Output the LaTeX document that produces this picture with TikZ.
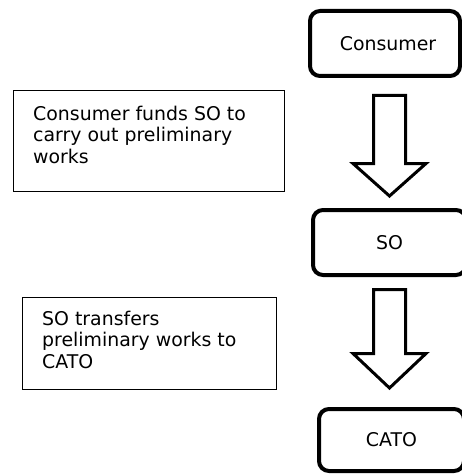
\documentclass[tikz,border=0pt]{standalone}
\usepackage{fontspec}
\setmainfont{DejaVu Sans}
\begin{document}
\begin{tikzpicture}[x=1pt,y=-1pt,
  every node/.style={font=\fontsize{18.9}{21.5}\selectfont},
  party/.style={draw, line width=4pt, rounded corners=10pt, inner sep=0pt},
  blockarrow/.style={draw, line width=3pt, fill=white, line join=miter},
  noteframe/.style={draw, line width=1pt},
  notetext/.style={anchor=north west, inner sep=0pt, align=left}]
\useasboundingbox (0,0) rectangle (462,476);
\clip (0,0) rectangle (462,476);

% parties
\node[party, minimum width=150pt, minimum height=65pt] (cons) at (385,43.5) {\hspace*{6pt}Consumer};
\node[party, minimum width=153pt, minimum height=65pt] (so) at (389.5,242.5) {SO};
\node[party, minimum width=145pt, minimum height=62pt] (cato) at (391.5,440) {CATO};

% block arrows between the parties
\draw[blockarrow] (373.5,95.5) -- (405.5,95.5) -- (405.5,163.5) -- (426,163.5)
  -- (389.5,196) -- (353,163.5) -- (373.5,163.5) -- cycle;
\draw[blockarrow] (373.5,289.5) -- (405.5,289.5) -- (405.5,353.5) -- (426,353.5)
  -- (389.5,388) -- (353,353.5) -- (373.5,353.5) -- cycle;

% explanatory notes
\draw[noteframe] (13.5,90.5) rectangle (284.5,191.5);
\node[notetext] (note1) at (33,105.5) {Consumer funds SO to\\carry out preliminary\\works};
\draw[noteframe] (22.5,297.5) rectangle (276.5,389.5);
\node[notetext] (note2) at (42,310.5) {SO transfers\\preliminary works to\\CATO};
\end{tikzpicture}
\end{document}
